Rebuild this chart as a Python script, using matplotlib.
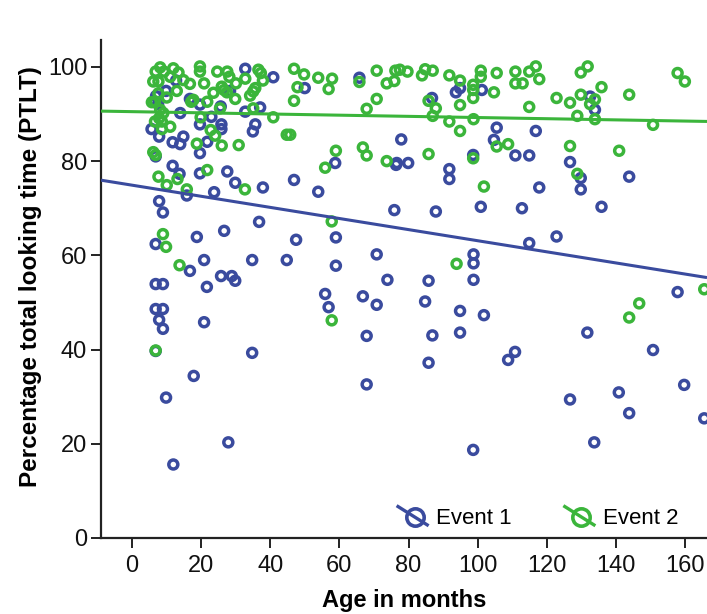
import matplotlib
matplotlib.use("Agg")
import matplotlib.pyplot as plt
import numpy as np
from matplotlib.lines import Line2D
from matplotlib.legend_handler import HandlerBase

# Event 1: age in months and percentage of total looking time
event1_age = [7.9, 9.0, 36.8, 18.8, 26.7, 47.5, 6.9, 20.9, 34.8, 44.8, 16.8, 25.8, 28.9, 29.9,
              21.7, 6.9, 9.0, 6.9, 9.0, 7.9, 9.0, 20.9, 6.9, 34.8, 17.9, 9.9, 27.9, 12.0,
              75.9, 87.9, 100.9, 59.0, 59.0, 70.8, 98.8, 98.8, 98.8, 73.9, 85.8, 55.9, 56.9,
              66.8, 70.8, 84.8, 94.9, 101.8, 67.9, 86.9, 94.9, 85.8, 67.9, 98.7, 112.8, 135.8,
              114.9, 122.8, 157.8, 131.7, 110.8, 108.8, 150.7, 159.7, 126.7, 140.8, 143.8,
              133.7, 165.5, 50.0, 65.8, 86.8, 93.7, 94.9, 101.2, 105.5, 104.7, 77.9, 58.8,
              76.6, 76.4, 79.9, 91.8, 91.8, 98.7, 46.9, 53.9, 132.5, 133.9, 116.8, 110.9,
              114.9, 126.7, 129.8, 129.8, 143.8, 117.8, 32.8, 40.9, 12.8, 9.9, 16.8, 19.7,
              25.7, 28.4, 32.8, 37.1, 14.0, 23.0, 25.9, 25.9, 19.7, 5.7, 7.9, 11.8, 14.0,
              14.9, 21.8, 35.7, 35.0, 19.7, 6.9, 11.8, 13.8, 19.7, 27.6, 29.9, 37.9, 23.8,
              15.9, 7.0, 7.6]
event1_ptlt = [71.5, 69.1, 67.1, 63.9, 65.2, 63.3, 62.4, 59.0, 59.0, 59.0, 56.7, 55.6, 55.6, 54.6,
               53.3, 53.9, 53.9, 48.6, 48.6, 46.3, 44.4, 45.8, 39.7, 39.3, 34.4, 29.8, 20.3, 15.6,
               69.6, 69.3, 70.3, 63.8, 57.8, 60.2, 60.2, 58.3, 54.8, 54.8, 54.6, 51.8, 49.0,
               51.3, 49.5, 50.2, 48.2, 47.3, 42.9, 43.0, 43.6, 37.2, 32.6, 18.7, 70.0, 70.3,
               62.6, 64.0, 52.2, 43.6, 39.5, 37.8, 39.9, 32.5, 29.4, 30.9, 26.5,
               20.3, 25.4, 95.5, 97.7, 93.4, 94.6, 95.5, 95.1, 87.1, 84.5, 84.6, 79.6,
               79.6, 79.2, 79.6, 78.3, 76.2, 81.3, 76.0, 73.5, 93.7, 90.9, 86.4, 81.2,
               81.2, 79.8, 76.4, 74.0, 76.7, 74.4, 99.6, 97.8, 97.1, 94.9, 93.2, 92.0,
               91.6, 94.9, 90.5, 91.4, 90.2, 89.4, 87.8, 86.8, 87.8, 86.8, 85.2, 84.0, 83.6,
               85.2, 84.1, 87.8, 86.3, 81.7, 81.0, 79.0, 77.3, 77.4, 77.8, 75.4, 74.4, 73.4,
               72.7, 93.8, 92.1]

# Event 2: age in months and percentage of total looking time
event2_age = [6.9, 9.0, 9.9, 13.8, 57.8, 93.9, 57.8, 165.5, 146.7, 143.8,
              46.9, 49.8, 47.9, 46.9, 53.9, 57.9, 56.9, 65.8, 70.8, 70.8, 67.9, 73.7, 75.9,
              76.2, 77.5, 79.7, 83.9, 84.8, 87.0, 85.8, 87.9, 87.0, 91.8, 94.9, 94.9, 91.8,
              94.9, 98.7, 98.7, 98.7, 100.9, 100.9, 98.8, 104.7, 105.5, 105.5, 45.8, 59.0,
              55.9, 66.8, 67.9, 73.7, 85.8, 98.7, 101.8,
              110.9, 114.9, 116.8, 110.9, 113.0, 117.8, 114.9, 122.8, 126.7, 129.8, 131.8,
              129.8, 133.9, 132.5, 128.8, 133.9, 135.8, 143.8, 150.7, 157.8, 159.9, 108.8,
              126.7, 128.8, 140.9,
              6.9, 8.2, 9.3, 6.2, 7.7, 12.0, 13.5, 11.1, 16.8, 14.9, 19.7, 19.7, 20.9, 24.7,
              27.6, 28.2, 30.1, 32.8, 36.6, 37.3, 37.9, 13.0, 7.7, 10.1, 23.6, 26.0, 26.7,
              27.5, 29.9, 35.1, 34.2, 35.7, 6.7, 5.8, 17.2, 17.8, 21.8, 8.2, 9.1, 7.9, 8.7,
              6.7, 11.1, 8.7, 19.9, 25.5, 35.1, 40.9, 44.8, 22.8, 24.1, 18.8, 26.0, 30.9,
              6.2, 6.9, 7.7, 13.2, 10.1, 15.9, 21.8, 32.7]
event2_ptlt = [39.8, 64.5, 61.8, 57.9, 67.2, 58.2, 46.2, 52.8, 49.8, 46.8,
               99.6, 98.4, 95.7, 92.8, 97.7, 97.5, 95.3, 96.8, 99.2, 93.2, 91.1, 96.5, 97.0,
               99.2, 99.4, 99.0, 98.2, 99.5, 99.2, 92.8, 91.2, 89.6, 98.2, 97.1, 91.9, 88.4,
               86.4, 96.2, 95.1, 93.4, 99.2, 97.9, 88.9, 94.6, 98.7, 83.1, 85.6, 82.2,
               78.6, 82.9, 81.2, 80.0, 81.5, 80.6, 74.6,
               99.0, 99.0, 100.1, 96.5, 96.5, 97.4, 91.5, 93.4, 92.4, 98.8, 100.1,
               94.1, 93.1, 92.1, 89.6, 88.9, 95.7, 94.1, 87.7, 98.7, 96.9, 83.6,
               83.2, 77.3, 82.2,
               99.0, 99.9, 99.0, 96.9, 96.9, 99.7, 98.8, 97.9, 96.4, 97.2, 99.0, 100.1, 96.5, 99.0,
               99.0, 97.9, 96.5, 97.5, 99.4, 98.7, 97.1, 94.9, 94.4, 93.5, 94.5, 95.8, 95.1,
               94.6, 93.2, 94.8, 93.9, 95.5, 92.6, 92.5, 92.6, 93.0, 92.6, 90.9, 90.2, 89.1, 88.4,
               88.4, 87.3, 86.8, 89.3, 91.2, 91.2, 89.3, 85.6, 86.6, 85.4, 83.7, 83.3, 83.4,
               81.9, 81.3, 76.7, 76.2, 74.9, 74.0, 78.1, 74.0]

# Linear fit lines (intercept, slope) for each event
series_names = ["Event 1", "Event 2"]
fit_intercept = [74.9, 90.5]
fit_slope = [-0.118, -0.0125]

x_ticks = [0, 20, 40, 60, 80, 100, 120, 140, 160]
y_ticks = [0, 20, 40, 60, 80, 100]

BLUE = "#3a4b9e"
GREEN = "#3bb53b"
colors = [BLUE, GREEN]

plt.rcParams["font.family"] = ["Liberation Sans", "DejaVu Sans"]

fig = plt.figure(figsize=(7.07, 6.14), dpi=100)
ax = fig.add_axes([0.1429, 0.1238, 0.8571, 0.811])
xlim = (-8.9, 166.3)
ax.set_xlim(*xlim)
ax.set_ylim(0, 105.7)

marker_kw = dict(s=42, facecolors="none", linewidths=2.5)
ax.scatter(event1_age, event1_ptlt, edgecolors=BLUE, zorder=3, **marker_kw)
ax.scatter(event2_age, event2_ptlt, edgecolors=GREEN, zorder=4, **marker_kw)

xs = np.array(xlim)
for b0, b1, c in zip(fit_intercept, fit_slope, colors):
    ax.plot(xs, b0 + b1 * xs, color=c, lw=2.2, zorder=5, solid_capstyle="butt")

for side in ("top", "right"):
    ax.spines[side].set_visible(False)
for side in ("left", "bottom"):
    ax.spines[side].set_linewidth(1.6)
    ax.spines[side].set_color("#222222")

ax.set_xticks(x_ticks)
ax.set_yticks(y_ticks)
ax.tick_params(axis="both", direction="out", length=7, width=1.4, color="#222222",
               labelsize=17, labelcolor="#111111")
ax.tick_params(axis="x", pad=5)
ax.tick_params(axis="y", pad=3)

ax.set_xlabel("Age in months", fontsize=17, fontweight="bold", labelpad=9)
ax.set_ylabel("Percentage total looking time (PTLT)", fontsize=17.5, fontweight="bold")
ax.yaxis.set_label_coords(-0.098, 0.525)


class SlashedRing(HandlerBase):
    def create_artists(self, legend, orig_handle, xdescent, ydescent, width, height,
                       fontsize, trans):
        c = orig_handle.get_color()
        cx = -xdescent + width / 2
        cy = -ydescent + height / 2
        hw = width / 2
        slash = Line2D([cx - hw, cx + hw * 0.75], [cy + hw * 0.6, cy - hw * 0.5],
                       color=c, lw=2.4, transform=trans)
        ring = Line2D([cx], [cy], marker="o", ms=12.5, mfc="none", mec=c, mew=2.6,
                      linestyle="none", transform=trans)
        return [slash, ring]


handles = [Line2D([], [], color=c) for c in colors]
ax.legend(handles, series_names, handler_map={Line2D: SlashedRing()},
          loc="center left", bbox_to_anchor=(0.563, 0.155), bbox_transform=fig.transFigure,
          ncol=2, frameon=False, fontsize=16, handlelength=1.5, handletextpad=0.2,
          columnspacing=2.4, borderpad=0, borderaxespad=0)

fig.savefig("out.png", dpi=100, facecolor="white")
